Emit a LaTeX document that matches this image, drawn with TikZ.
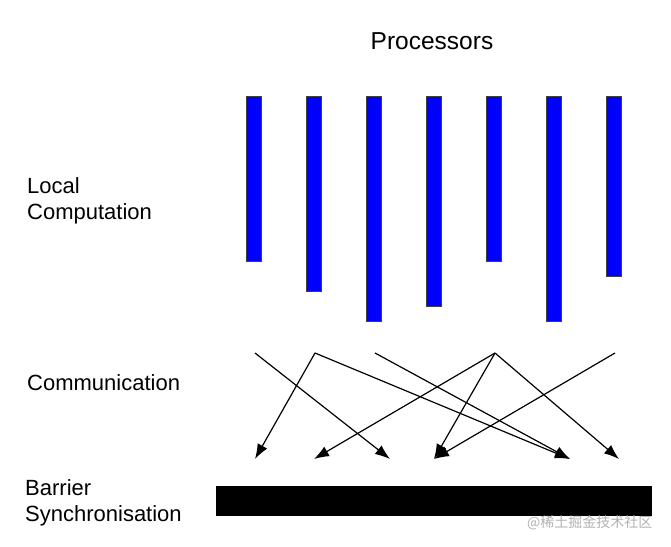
\documentclass[tikz,border=0pt]{standalone}
\usepackage{fontspec}
\setmainfont{Liberation Sans}
\newfontfamily\cjkfont{Noto Sans CJK SC}
\usetikzlibrary{arrows.meta}

\tikzset{
  bar/.style={rectangle, draw=black!75, fill=blue, line width=0.6pt,
    minimum width=15pt, inner sep=0pt, anchor=north},
  sidetext/.style={anchor=west, align=left, inner sep=0pt,
    font=\fontsize{22}{26}\selectfont},
  msg/.style={-{Latex[length=15pt,width=11pt]}, line width=1.2pt}
}

\begin{document}
\begin{tikzpicture}[x=1pt, y=-1pt]
  \useasboundingbox (0,0) rectangle (671,546);

  \node (title) [font=\fontsize{24.5}{28}\selectfont] at (432,41) {Processors};

  % one bar per processor
  \foreach \i/\h in {1/165, 2/195, 3/225, 4/210, 5/165, 6/225, 7/180} {
    \node (p\i) [bar, minimum height=\h pt] at (193.5+60*\i, 96) {};
  }

  \node (local) [sidetext] at (27,201) {Local\\Computation};
  \node (comm) [sidetext] at (27,383) {Communication};
  \node (sync) [sidetext] at (25,503) {Barrier\\Synchronisation};

  % message ends
  \foreach \i/\x in {1/255, 2/315, 3/375, 4/495, 5/615}
    \coordinate (s\i) at (\x,353);
  \foreach \i/\x in {1/255, 2/314, 3/390, 4/434, 5/570, 6/619}
    \coordinate (t\i) at (\x,459);

  \foreach \s/\t in {1/3, 2/1, 2/5, 3/5, 4/2, 4/4, 4/6, 5/4}
    \draw[msg] (s\s) -- (t\t);

  \node (barrier) [rectangle, fill=black, inner sep=0pt, anchor=north west,
    minimum width=436pt, minimum height=30pt] at (216,486) {};

  \node (mark) [anchor=east, text=black!30,
    font=\cjkfont\fontsize{14}{16}\selectfont] at (656,523) {@稀土掘金技术社区};
\end{tikzpicture}
\end{document}
